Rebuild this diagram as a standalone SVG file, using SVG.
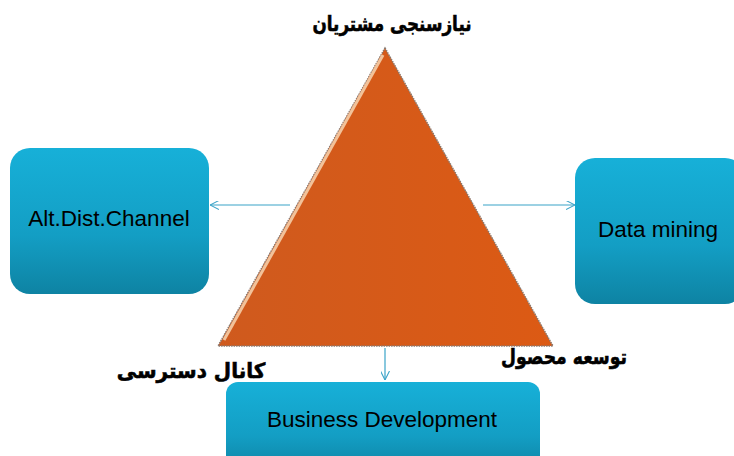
<svg xmlns="http://www.w3.org/2000/svg" width="734" height="456" viewBox="0 0 734 456">
<defs>
<linearGradient id="boxg" x1="0" y1="0" x2="0" y2="1">
<stop offset="0" stop-color="#17b0d8"/>
<stop offset="0.6" stop-color="#139ec4"/>
<stop offset="1" stop-color="#0e83a3"/>
</linearGradient>
<linearGradient id="trig" x1="0" y1="0" x2="1" y2="0">
<stop offset="0" stop-color="#cf5a1e"/>
<stop offset="1" stop-color="#dc5a14"/>
</linearGradient>
<marker id="arr" viewBox="0 0 10 10" refX="10" refY="5" markerWidth="9" markerHeight="9" orient="auto" markerUnits="userSpaceOnUse">
<path d="M0,0 L10,5 L0,10" fill="none" stroke="#3aa3c8" stroke-width="1.2"/>
</marker>
<style>
.box{fill:url(#boxg);}
.lbl{font-family:"Liberation Sans",Arial,sans-serif;font-size:22.5px;fill:#000;text-anchor:middle;}
.fa{font-family:"DejaVu Sans","Noto Sans",sans-serif;font-weight:bold;font-size:21px;fill:#000;stroke:#000;stroke-width:0.6;text-anchor:middle;}
.conn{stroke:#3aa3c8;stroke-width:1.2;fill:none;marker-end:url(#arr);}
</style>
</defs>
<rect width="734" height="456" fill="#fff"/>
<g id="connectors">
<line class="conn" x1="290" y1="205" x2="210" y2="205"/>
<line class="conn" x1="483" y1="205" x2="575" y2="205"/>
<line class="conn" x1="385" y1="348" x2="385" y2="380"/>
</g>
<g id="triangle">
<polygon points="385,48 553,346 218,346" fill="url(#trig)" stroke="#8a7a70" stroke-width="1.5" stroke-dasharray="1.5 1"/>
<line x1="383" y1="55" x2="224" y2="340" stroke="#f2c29a" stroke-width="3"/>
</g>
<g id="node-alt">
<rect class="box" x="10" y="148" width="199" height="146" rx="20"/>
<text class="lbl" x="109" y="226">Alt.Dist.Channel</text>
</g>
<g id="node-data">
<rect class="box" x="575" y="158" width="170" height="146" rx="20"/>
<text class="lbl" x="658" y="237">Data mining</text>
</g>
<g id="node-bd">
<rect class="box" x="226" y="382" width="314" height="90" rx="12"/>
<text class="lbl" x="382" y="427">Business Development</text>
</g>
<g id="labels">
<text class="fa" transform="translate(392,31) scale(0.8,1)" x="0" y="0" direction="rtl">نیازسنجی مشتریان</text>
<text class="fa" transform="translate(191,378) scale(0.95,1)" x="0" y="0" direction="rtl">کانال دسترسی</text>
<text class="fa" transform="translate(564,364) scale(0.82,1)" x="0" y="0" direction="rtl">توسعه محصول</text>
</g>
</svg>
